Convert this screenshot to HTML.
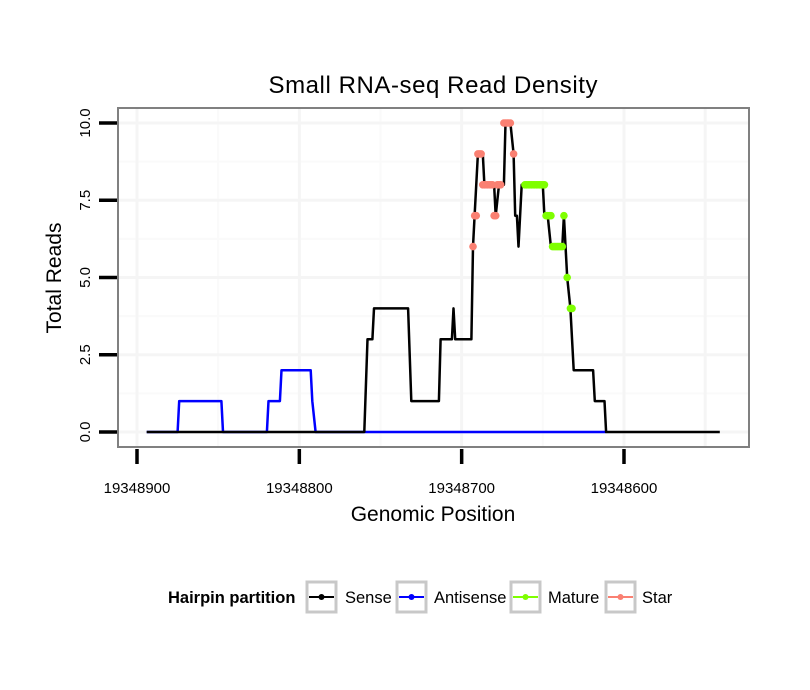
<!DOCTYPE html>
<html><head><meta charset="utf-8"><style>
body{margin:0;background:#fff;}
svg{display:block;font-family:"Liberation Sans",sans-serif;}
</style></head><body>
<svg id="chart" width="810" height="690" viewBox="0 0 810 690">
<text x="433" y="93" font-size="24" text-anchor="middle" textLength="329">Small RNA-seq Read Density</text>
<g id="grid"></g>
<g id="series"></g>
<rect x="118" y="108" width="631" height="339" fill="none" stroke="#808080" stroke-width="2"/>
<g id="axes"></g>
<text x="433" y="521" font-size="21" text-anchor="middle">Genomic Position</text>
<text transform="translate(61,278) rotate(-90)" font-size="21" text-anchor="middle">Total Reads</text>
<g>
<text x="168" y="603" font-size="16.5" font-weight="bold">Hairpin partition</text>
<g><rect x="307" y="582" width="29" height="30" fill="#fff" stroke="#c8c8c8" stroke-width="3"/><line x1="309" y1="597" x2="334" y2="597" stroke="#000" stroke-width="2"/><circle cx="321.5" cy="597" r="3" fill="#000"/><text x="345" y="603" font-size="16.5">Sense</text></g>
<g><rect x="397" y="582" width="29" height="30" fill="#fff" stroke="#c8c8c8" stroke-width="3"/><line x1="399" y1="597" x2="424" y2="597" stroke="#0000ff" stroke-width="2"/><circle cx="411.5" cy="597" r="3" fill="#0000ff"/><text x="434" y="603" font-size="16.5">Antisense</text></g>
<g><rect x="511" y="582" width="29" height="30" fill="#fff" stroke="#c8c8c8" stroke-width="3"/><line x1="513" y1="597" x2="538" y2="597" stroke="#7fff00" stroke-width="2"/><circle cx="525.5" cy="597" r="3" fill="#7fff00"/><text x="548" y="603" font-size="16.5">Mature</text></g>
<g><rect x="606" y="582" width="29" height="30" fill="#fff" stroke="#c8c8c8" stroke-width="3"/><line x1="608" y1="597" x2="633" y2="597" stroke="#fa8072" stroke-width="2"/><circle cx="620.5" cy="597" r="3" fill="#fa8072"/><text x="642" y="603" font-size="16.5">Star</text></g>
</g>
</svg>
<script>
const xTicks=[19348900,19348800,19348700,19348600];
const yTicks=[0,2.5,5,7.5,10];
const yTickLabels=["0.0","2.5","5.0","7.5","10.0"];
const sensePos=[19348894,19348760,19348758,19348755,19348754,19348733,19348731,19348714,19348713,19348706,19348705,19348704,19348694,19348693,19348692,19348690,19348687,19348686,19348680,19348679,19348677,19348674,19348673,19348670,19348668,19348667,19348666,19348665,19348663,19348650,19348649,19348647,19348645,19348638,19348637,19348635,19348633,19348631,19348619,19348618,19348612,19348611,19348541];
const senseVal=[0,0,3,3,4,4,1,1,3,3,4,3,3,6,7,9,9,8,8,7,8,8,10,10,9,7,7,6,8,8,7,7,6,6,7,5,4,2,2,1,1,0,0];
const antiPos=[19348894,19348875,19348874,19348848,19348847,19348820,19348819,19348812,19348811,19348793,19348792,19348790,19348611];
const antiVal=[0,0,1,1,0,0,1,1,2,2,1,0,0];
const starPos=[19348693,19348692,19348691,19348690,19348689,19348688,19348687,19348686,19348685,19348684,19348683,19348682,19348681,19348680,19348679,19348678,19348677,19348676,19348674,19348673,19348672,19348671,19348670,19348668];
const starVal=[6,7,7,9,9,9,8,8,8,8,8,8,8,7,7,8,8,8,10,10,10,10,10,9];
const matPos=[19348661,19348660,19348659,19348658,19348657,19348656,19348655,19348654,19348653,19348652,19348651,19348650,19348649,19348648,19348647,19348646,19348645,19348644,19348643,19348642,19348641,19348640,19348639,19348638,19348637,19348635,19348633,19348632];
const matVal=[8,8,8,8,8,8,8,8,8,8,8,8,8,7,7,7,7,6,6,6,6,6,6,6,7,5,4,4];
const NS="http://www.w3.org/2000/svg";
const xs=p=>137+(19348900-p)*1.6233;
const ys=v=>432-v*30.9;
function mk(tag,attrs,parent){const e=document.createElementNS(NS,tag);for(const k in attrs)e.setAttribute(k,attrs[k]);parent.appendChild(e);return e;}
const grid=document.getElementById('grid'),axes=document.getElementById('axes'),series=document.getElementById('series');
mk('rect',{x:118,y:108,width:631,height:339,fill:'#fff'},grid);
[19348850,19348750,19348650].forEach(p=>{const l=mk('line',{x1:xs(p),x2:xs(p),y1:108,y2:447,stroke:'#fafafa','stroke-width':2},grid);

});
[1.25,3.75,6.25,8.75].forEach(v=>{const l=mk('line',{x1:118,x2:749,y1:ys(v),y2:ys(v),stroke:'#fafafa','stroke-width':2},grid);

});
xTicks.concat([19348550]).forEach(p=>{const l=mk('line',{x1:xs(p),x2:xs(p),y1:108,y2:447,stroke:'#f5f5f5','stroke-width':3},grid);

});
yTicks.forEach(v=>{const l=mk('line',{x1:118,x2:749,y1:ys(v),y2:ys(v),stroke:'#f5f5f5','stroke-width':3},grid);

});
xTicks.forEach(p=>{const t=mk('line',{x1:xs(p),x2:xs(p),y1:449,y2:464,stroke:'#000','stroke-width':3.5},axes);


const tx=mk('text',{x:xs(p),y:493,'font-size':15,'text-anchor':'middle'},axes);tx.textContent=p;

});
yTicks.forEach((v,i)=>{const t=mk('line',{x1:99,x2:117,y1:ys(v),y2:ys(v),stroke:'#000','stroke-width':3.5},axes);


const tx=mk('text',{transform:`translate(90,${ys(v)}) rotate(-90)`,'font-size':15,'text-anchor':'middle'},axes);tx.textContent=yTickLabels[i];

});
function line(pos,val,color,name){const pts=pos.map((p,i)=>xs(p).toFixed(1)+','+ys(val[i]).toFixed(1)).join(' ');
const l=mk('polyline',{points:pts,fill:'none',stroke:color,'stroke-width':2.5,'stroke-linejoin':'round'},series);

}
function dots(pos,val,color,name){pos.forEach((p,i)=>{const c=mk('circle',{cx:xs(p),cy:ys(val[i]),r:3.8,fill:color},series);

});}
line(antiPos,antiVal,'#0000ff','antisense-line');
line(sensePos,senseVal,'#000','sense-line');
dots(starPos,starVal,'#fa8072','star-point');
dots(matPos,matVal,'#7fff00','mature-point');
</script>
</body></html>
